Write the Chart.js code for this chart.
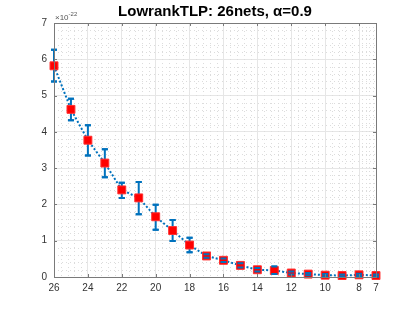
<!DOCTYPE html>
<html>
<head>
<meta charset="utf-8">
<script src="https://cdn.jsdelivr.net/npm/chart.js@4.4.1/dist/chart.umd.min.js"></script>
<style>
  html, body { margin: 0; padding: 0; background: #fff; }
  #wrap { width: 415px; height: 312px; }
</style>
</head>
<body>
<div id="wrap"><canvas id="chart" width="415" height="312"></canvas></div>
<script>
// network sizes (x, reversed axis) and mean / error bounds, units of 1e-22
const nets = [26, 25, 24, 23, 22, 21, 20, 19, 18, 17, 16, 15, 14, 13, 12, 11, 10, 9, 8, 7];
const means = [5.82, 4.62, 3.77, 3.14, 2.40, 2.18, 1.66, 1.28, 0.88, 0.58, 0.46, 0.32, 0.20, 0.18, 0.11, 0.08, 0.05, 0.04, 0.06, 0.04];
const errLow = [5.39, 4.32, 3.35, 2.75, 2.18, 1.73, 1.30, 0.99, 0.68, 0.53, 0.41, 0.26, 0.15, 0.08, 0.07, 0.05, 0.02, 0.01, 0.03, 0.01];
const errHigh = [6.26, 4.91, 4.18, 3.52, 2.60, 2.62, 1.99, 1.57, 1.08, 0.63, 0.51, 0.38, 0.25, 0.29, 0.15, 0.11, 0.08, 0.07, 0.09, 0.07];
const xTicks = [26, 24, 22, 20, 18, 16, 14, 12, 10, 8, 7];
const yTicks = [0, 1, 2, 3, 4, 5, 6, 7];

const titleText = 'LowrankTLP: 26nets, \u03B1=0.9';
const blue = '#0072BD';
const axisColor = '#7a7a7a';
const font = '"Liberation Sans", Arial, sans-serif';

function minorValues(ticks) {
    const sorted = ticks.slice().sort((a, b) => a - b);
    const out = [];
    for (let i = 0; i < sorted.length - 1; i++) {
        const step = (sorted[i + 1] - sorted[i]) / 5;
        for (let k = 1; k < 5; k++) out.push(sorted[i] + k * step);
    }
    return out;
}

function drawBars(chart, capsOnly) {
    const ctx = chart.ctx;
    const xs = chart.scales.x, ys = chart.scales.y;
    ctx.save();
    ctx.strokeStyle = blue;
    ctx.lineWidth = 2;
    nets.forEach((n, i) => {
        const px = xs.getPixelForValue(n);
        const lo = ys.getPixelForValue(errLow[i]);
        const hi = ys.getPixelForValue(errHigh[i]);
        ctx.beginPath();
        if (!capsOnly) {
            ctx.moveTo(px, lo);
            ctx.lineTo(px, hi);
        }
        ctx.moveTo(px - 3, lo); ctx.lineTo(px + 3, lo);
        ctx.moveTo(px - 3, hi); ctx.lineTo(px + 3, hi);
        ctx.stroke();
    });
    ctx.restore();
}

const matlabLook = {
    id: 'matlabLook',
    beforeDatasetsDraw(chart) {
        const ctx = chart.ctx, a = chart.chartArea;
        const xs = chart.scales.x, ys = chart.scales.y;
        // minor grid, dotted
        ctx.save();
        ctx.strokeStyle = '#dcdcdc';
        ctx.lineWidth = 1;
        ctx.setLineDash([1, 3]);
        minorValues(xTicks).forEach(v => {
            const p = Math.round(xs.getPixelForValue(v)) + 0.5;
            ctx.beginPath(); ctx.moveTo(p, a.top); ctx.lineTo(p, a.bottom); ctx.stroke();
        });
        minorValues(yTicks).forEach(v => {
            const p = Math.round(ys.getPixelForValue(v)) + 0.5;
            ctx.beginPath(); ctx.moveTo(a.left, p); ctx.lineTo(a.right, p); ctx.stroke();
        });
        ctx.restore();
        drawBars(chart, false);
    },
    afterDatasetsDraw(chart) {
        drawBars(chart, true);
    },
    afterDraw(chart) {
        const ctx = chart.ctx, a = chart.chartArea;
        const xs = chart.scales.x, ys = chart.scales.y;
        ctx.save();
        // box and inward ticks
        ctx.strokeStyle = axisColor;
        ctx.lineWidth = 1;
        ctx.strokeRect(Math.round(a.left) + 0.5, Math.round(a.top) + 0.5,
            Math.round(a.right - a.left), Math.round(a.bottom - a.top));
        ctx.beginPath();
        xTicks.forEach(v => {
            const p = Math.round(xs.getPixelForValue(v)) + 0.5;
            ctx.moveTo(p, a.bottom); ctx.lineTo(p, a.bottom - 3);
            ctx.moveTo(p, a.top); ctx.lineTo(p, a.top + 3);
        });
        yTicks.forEach(v => {
            const p = Math.round(ys.getPixelForValue(v)) + 0.5;
            ctx.moveTo(a.left, p); ctx.lineTo(a.left + 3, p);
            ctx.moveTo(a.right, p); ctx.lineTo(a.right - 3, p);
        });
        ctx.stroke();
        // exponent label
        ctx.fillStyle = '#555';
        ctx.textBaseline = 'alphabetic';
        ctx.textAlign = 'left';
        ctx.font = '8px ' + font;
        ctx.fillText('\u00D710', a.left + 1, a.top - 3);
        const w = ctx.measureText('\u00D710').width;
        ctx.font = '6px ' + font;
        ctx.fillText('-22', a.left + 1 + w, a.top - 7);
        // title
        ctx.fillStyle = '#000';
        ctx.textAlign = 'center';
        ctx.font = 'bold 15px ' + font;
        ctx.fillText(titleText, (a.left + a.right) / 2, 16);
        ctx.restore();
    }
};

new Chart(document.getElementById('chart'), {
    type: 'line',
    data: {
        datasets: [{
            data: nets.map((n, i) => ({ x: n, y: means[i] })),
            borderColor: blue,
            borderWidth: 2,
            borderDash: [2, 2],
            pointStyle: 'rect',
            pointRadius: 5.6,
            pointBackgroundColor: '#ff0000',
            pointBorderColor: '#ff3030',
            pointBorderWidth: 1,
            tension: 0,
            clip: false
        }]
    },
    options: {
        responsive: false,
        animation: false,
        layout: { padding: { top: 23, right: 39, left: 0, bottom: 0 } },
        plugins: { legend: { display: false }, title: { display: false }, tooltip: { enabled: false } },
        scales: {
            x: {
                type: 'linear',
                reverse: true,
                min: 7,
                max: 26,
                afterBuildTicks: s => { s.ticks = xTicks.map(v => ({ value: v })); },
                afterFit: s => { s.height = 35; },
                grid: { color: '#e6e6e6', drawTicks: false },
                border: { display: false },
                ticks: { color: '#333', font: { family: font, size: 10 }, padding: 5, maxRotation: 0, autoSkip: false }
            },
            y: {
                min: 0,
                max: 7,
                afterBuildTicks: s => { s.ticks = yTicks.map(v => ({ value: v })); },
                afterFit: s => { s.width = 54; },
                grid: { color: '#e6e6e6', drawTicks: false },
                border: { display: false },
                ticks: { color: '#333', font: { family: font, size: 10 }, padding: 7 }
            }
        }
    },
    plugins: [matlabLook]
});
</script>
</body>
</html>
